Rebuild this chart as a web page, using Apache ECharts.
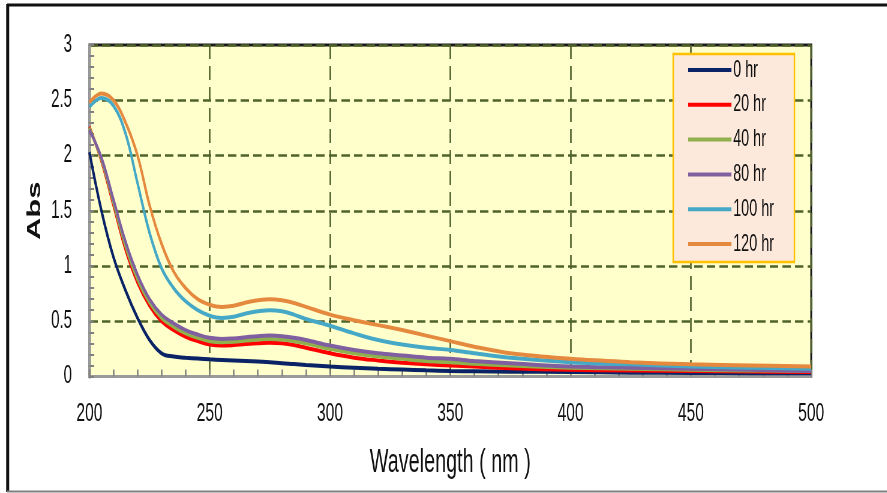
<!DOCTYPE html>
<html>
<head>
<meta charset="utf-8">
<script src="https://cdn.jsdelivr.net/npm/echarts@6/dist/echarts.min.js"></script>
<style>
html,body{margin:0;padding:0;background:#fff;overflow:hidden;}
#wrap{width:887px;height:493px;overflow:hidden;position:relative;}
#c{width:1478px;height:493px;transform:scaleX(0.6);transform-origin:0 0;}
</style>
</head>
<body>
<div id="wrap"><div id="c"></div></div>
<script>
// Wavelength sample points (nm)
const wavelengths = [200,205,210,215,220,225,230,235,240,245,250,255,260,265,270,275,280,285,290,300,310,320,330,340,350,360,375,400,425,450,475,500];
// Absorbance per exposure time
const abs0hr   = [2.03,1.50,1.08,0.78,0.53,0.33,0.21,0.18,0.17,0.162,0.155,0.15,0.145,0.14,0.135,0.13,0.12,0.113,0.105,0.09,0.08,0.07,0.063,0.056,0.05,0.047,0.044,0.04,0.035,0.032,0.03,0.03];
const abs20hr  = [2.26,1.95,1.55,1.15,0.85,0.64,0.50,0.42,0.36,0.32,0.29,0.28,0.285,0.295,0.30,0.305,0.30,0.285,0.26,0.21,0.17,0.145,0.125,0.11,0.10,0.09,0.075,0.06,0.055,0.05,0.045,0.04];
const abs40hr  = [2.25,1.96,1.57,1.18,0.88,0.67,0.53,0.45,0.39,0.35,0.32,0.31,0.315,0.325,0.335,0.34,0.335,0.32,0.30,0.25,0.21,0.18,0.16,0.14,0.13,0.115,0.10,0.08,0.07,0.06,0.055,0.05];
const abs80hr  = [2.23,1.98,1.60,1.22,0.92,0.70,0.56,0.48,0.42,0.38,0.35,0.34,0.345,0.355,0.365,0.37,0.365,0.35,0.33,0.28,0.24,0.21,0.19,0.17,0.16,0.14,0.12,0.09,0.08,0.07,0.06,0.05];
const abs100hr = [2.44,2.52,2.45,2.20,1.75,1.30,0.98,0.80,0.68,0.60,0.55,0.53,0.54,0.57,0.59,0.60,0.59,0.56,0.52,0.46,0.39,0.33,0.29,0.26,0.24,0.21,0.17,0.13,0.11,0.09,0.08,0.07];
const abs120hr = [2.48,2.56,2.50,2.30,2.00,1.55,1.20,0.95,0.80,0.70,0.65,0.63,0.64,0.67,0.69,0.70,0.69,0.665,0.63,0.56,0.51,0.465,0.42,0.37,0.32,0.27,0.21,0.16,0.13,0.11,0.10,0.09];
const seriesNames = ['0 hr','20 hr','40 hr','80 hr','100 hr','120 hr'];
const seriesValues = [abs0hr, abs20hr, abs40hr, abs80hr, abs100hr, abs120hr];
const seriesColors = ['#0a2366','#ff0000','#8fb04c','#7f5fa0','#45a8c6','#e4893d'];
const xTicks = {min:200, max:500, interval:50};
const yTicks = {min:0, max:3, interval:0.5};

const FONT = "'Liberation Sans', Arial, sans-serif";
const chart = echarts.init(document.getElementById('c'), null, {renderer:'canvas'});

const series = seriesNames.map((name, i) => ({
  name: name,
  type: 'line',
  data: wavelengths.map((w, j) => [w, seriesValues[i][j]]),
  smooth: 0.4,
  showSymbol: false,
  symbol: 'none',
  color: seriesColors[i],
  lineStyle: {width: 4, color: seriesColors[i]},
  itemStyle: {color: seriesColors[i]},
  z: 3
}));

chart.setOption({
  animation: false,
  backgroundColor: '#ffffff',
  textStyle: {fontFamily: FONT},
  grid: {
    left: 149, right: 126, top: 45, bottom: 116.5,
    show: true, backgroundColor: '#ffffcc', borderColor: '#1a1a1a', borderWidth: 3
  },
  legend: {
    orient: 'vertical',
    left: 1122, top: 54,
    data: seriesNames,
    icon: 'rect',
    itemWidth: 72, itemHeight: 4,
    itemGap: 10.8,
    padding: [4, 34, 6, 25],
    backgroundColor: '#fde9dc',
    borderColor: '#ffc000',
    borderWidth: 2.5,
    textStyle: {fontFamily: FONT, fontSize: 24, color: '#111', lineHeight: 24, padding: [0,0,0,-2]}
  },
  xAxis: {
    type: 'value',
    min: xTicks.min, max: xTicks.max, interval: xTicks.interval,
    name: 'Wavelength ( nm )',
    nameLocation: 'middle',
    nameGap: 70,
    nameTextStyle: {fontFamily: FONT, fontSize: 33, color: '#111'},
    axisLine: {show: true, onZero: false, lineStyle: {color: '#9a9a9a', width: 3}},
    axisTick: {show: true, inside: true, length: 7, lineStyle: {color: '#7f7f7f', width: 2.5}},
    minorTick: {show: true, splitNumber: 5, length: 7, lineStyle: {color: '#7f7f7f', width: 2.5}},
    axisLabel: {fontFamily: FONT, fontSize: 26, color: '#111', margin: 24},
    splitLine: {show: true, lineStyle: {color: '#4f6228', width: 2.6, type: [14, 7]}}
  },
  yAxis: {
    type: 'value',
    min: yTicks.min, max: yTicks.max, interval: yTicks.interval,
    name: 'Abs',
    nameLocation: 'middle',
    nameRotate: 90,
    nameGap: 75,
    nameTextStyle: {fontFamily: FONT, fontSize: 31, fontWeight: 'bold', color: '#111'},
    axisLine: {show: true, onZero: false, lineStyle: {color: '#9a9a9a', width: 4.5}},
    axisTick: {show: true, inside: true, length: 8, lineStyle: {color: '#7f7f7f', width: 2}},
    minorTick: {show: true, splitNumber: 5, length: 8, lineStyle: {color: '#7f7f7f', width: 2}},
    axisLabel: {fontFamily: FONT, fontSize: 25, color: '#111', margin: 29},
    splitLine: {show: true, lineStyle: {color: '#4f6228', width: 2.6, type: [14, 7]}}
  },
  graphic: [
    {type: 'line', silent: true, shape: {x1: 12, y1: 5, x2: 1478, y2: 5}, style: {stroke: '#111', lineWidth: 3}},
    {type: 'line', silent: true, shape: {x1: 12.8, y1: 4, x2: 12.8, y2: 492}, style: {stroke: '#111', lineWidth: 5}},
    {type: 'line', silent: true, shape: {x1: 12, y1: 491.5, x2: 1478, y2: 491.5}, style: {stroke: '#808080', lineWidth: 2}}
  ],
  series: series
});
</script>
</body>
</html>
